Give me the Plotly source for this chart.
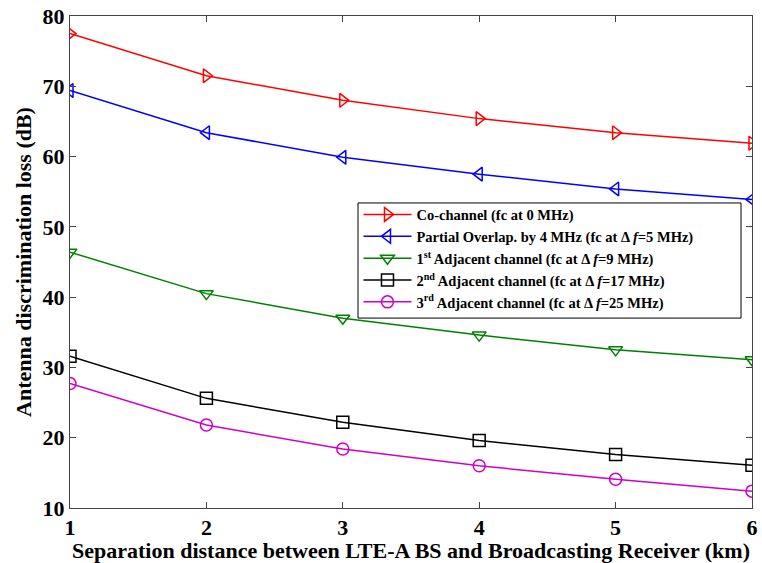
import plotly.graph_objects as go

distance_km = [1, 2, 3, 4, 5, 6]
co_channel = [77.5, 71.5, 68.0, 65.4, 63.4, 61.9]
partial_overlap = [69.4, 63.4, 59.9, 57.5, 55.4, 53.9]
adjacent_1st = [46.4, 40.5, 37.0, 34.6, 32.5, 31.1]
adjacent_2nd = [31.6, 25.6, 22.2, 19.6, 17.6, 16.1]
adjacent_3rd = [27.7, 21.8, 18.4, 16.0, 14.1, 12.4]

x_ticks = [1, 2, 3, 4, 5, 6]
y_ticks = [10, 20, 30, 40, 50, 60, 70, 80]

series = [
    ("Co-channel (fc at 0 MHz)", co_channel, "#ff0000", "triangle-right-open"),
    ("Partial Overlap. by 4 MHz (fc at \u0394 <i>f</i>=5 MHz)", partial_overlap, "#0000ff", "triangle-left-open"),
    ("1<sup>st</sup> Adjacent channel (fc at \u0394 <i>f</i>=9 MHz)", adjacent_1st, "#008000", "triangle-down-open"),
    ("2<sup>nd</sup> Adjacent channel (fc at \u0394 <i>f</i>=17 MHz)", adjacent_2nd, "#000000", "square-open"),
    ("3<sup>rd</sup> Adjacent channel (fc at \u0394 <i>f</i>=25 MHz)", adjacent_3rd, "#cc00cc", "circle-open"),
]

fig = go.Figure()
for name, vals, color, sym in series:
    fig.add_trace(go.Scatter(
        x=distance_km, y=vals, name=name, mode="lines+markers",
        line=dict(color=color, width=1.5),
        marker=dict(symbol=sym, size=12, color=color, line=dict(color=color, width=1.5)),
    ))

font_family = "Liberation Serif, Times New Roman, serif"

# legend frame (decoration, paper coordinates)
fig.add_shape(type="rect", xref="paper", yref="paper",
              x0=0.4223, x1=0.9839, y0=0.386, y1=0.620,
              line=dict(color="black", width=1), fillcolor="white", layer="above")

fig.update_layout(
    width=762, height=563,
    margin=dict(l=70, r=10, t=16, b=55),
    paper_bgcolor="white", plot_bgcolor="white",
    font=dict(family=font_family, color="black"),
    showlegend=True,
    legend=dict(
        x=0.423, y=0.629, xanchor="left", yanchor="top",
        bgcolor="rgba(0,0,0,0)", borderwidth=0,
        font=dict(family=font_family, size=14.5, color="black", weight="bold"),
        tracegroupgap=0, itemwidth=48,
    ),
    xaxis=dict(
        range=[1, 6], tickvals=x_ticks, ticks="inside", ticklen=6,
        showline=True, linecolor="#444444", mirror="ticks", showgrid=False, zeroline=False,
        tickfont=dict(family=font_family, size=22, weight="bold"),
        title=dict(text="Separation distance between LTE-A BS and Broadcasting Receiver (km)",
                   font=dict(family=font_family, size=22, weight="bold"), standoff=0),
        automargin=False,
    ),
    yaxis=dict(
        range=[10, 80], tickvals=y_ticks, ticks="inside", ticklen=6,
        showline=True, linecolor="#444444", mirror="ticks", showgrid=False, zeroline=False,
        tickfont=dict(family=font_family, size=22, weight="bold"),
        title=dict(text="Antenna discrimination loss (dB)",
                   font=dict(family=font_family, size=22, weight="bold"), standoff=4),
        automargin=False,
    ),
)

fig.write_html("out.html", config={"displayModeBar": False})
with open("out.html", "r", encoding="utf-8") as f:
    html = f.read()
html = html.replace("<head>", "<head><style>html,body{margin:0;padding:0;overflow:hidden;}</style>", 1)
with open("out.html", "w", encoding="utf-8") as f:
    f.write(html)
